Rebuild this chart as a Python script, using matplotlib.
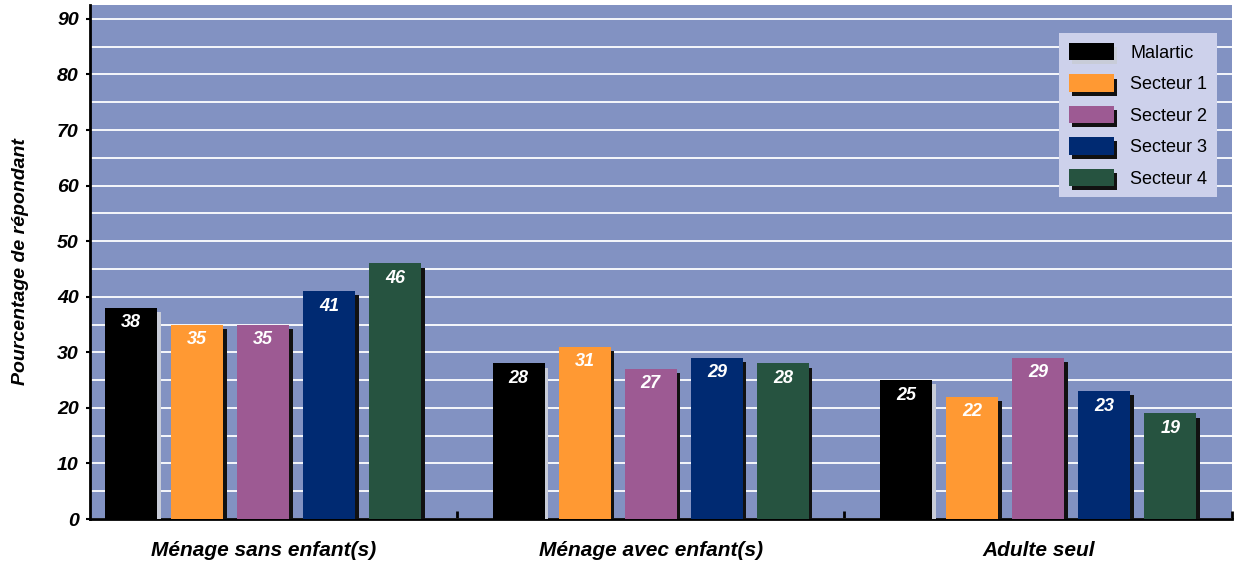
import numpy as np
import matplotlib
matplotlib.use("Agg")
import matplotlib.pyplot as plt
import matplotlib.patheffects as pe

plt.rcParams['font.family'] = ['Liberation Sans', 'DejaVu Sans']

categories = ["Ménage sans enfant(s)", "Ménage avec enfant(s)", "Adulte seul"]
series = ["Malartic", "Secteur 1", "Secteur 2", "Secteur 3", "Secteur 4"]
malartic = [38, 28, 25]
secteur1 = [35, 31, 22]
secteur2 = [35, 27, 29]
secteur3 = [41, 29, 23]
secteur4 = [46, 28, 19]
values = [malartic, secteur1, secteur2, secteur3, secteur4]

colors = ["#000000", "#FF9933", "#9D5A93", "#002A72", "#265340"]
shadows = ["#C8CCD8", "#111111", "#111111", "#111111", "#111111"]

fig = plt.figure(figsize=(12.44, 5.63), dpi=100)
ax = fig.add_axes([90 / 1244, 44 / 563, 1142 / 1244, 514 / 563])
ax.set_facecolor("#8292C2")

x = np.arange(len(categories))
width = 0.134
step = 0.1705

for i, (name, vals) in enumerate(zip(series, values)):
    pos = x + (i - 2) * step
    bars = ax.bar(pos, vals, width, color=colors[i], label=name, zorder=3)
    for b, v in zip(bars, vals):
        b.set_path_effects([pe.SimplePatchShadow(offset=(2.5, -3), shadow_rgbFace=shadows[i], alpha=1),
                            pe.Normal()])
        ax.text(b.get_x() + b.get_width() / 2, v - 2.7, str(v), ha="center", va="center",
                color="white", fontsize=13, fontweight="bold", fontstyle="italic", zorder=4)

ax.set_xlim(-0.447, 2.5)
ax.set_ylim(0, 92.5)
ax.set_yticks(range(0, 91, 10))
ax.set_yticks(range(0, 91, 5), minor=True)
ax.yaxis.grid(True, which="both", color="white", linewidth=1.3, zorder=0)
ax.set_axisbelow(True)

ax.set_xticks(x)
ax.set_xticklabels(categories, fontsize=15, fontweight="bold", fontstyle="italic")
ax.set_xticks([0.5, 1.5, 2.5], minor=True)
ax.tick_params(axis="x", which="major", length=0, pad=16)
ax.tick_params(axis="x", which="minor", direction="in", length=6, width=2)
ax.tick_params(axis="y", which="major", length=3, width=1.5, pad=5)
ax.tick_params(axis="y", which="minor", length=0)
for lab in ax.get_yticklabels():
    lab.set_fontsize(14)
    lab.set_fontweight("bold")
    lab.set_fontstyle("italic")

ax.set_ylabel("Pourcentage de répondant", fontsize=14, fontweight="bold", fontstyle="italic", labelpad=20)

for s in ["top", "right"]:
    ax.spines[s].set_visible(False)
for s in ["left", "bottom"]:
    ax.spines[s].set_linewidth(2)

leg = ax.legend(loc="upper right", bbox_to_anchor=(0.987, 0.9455), borderaxespad=0, fontsize=13,
                frameon=True, fancybox=False, handlelength=2.5, handleheight=1.1, labelspacing=0.7,
                borderpad=0.55, handletextpad=0.9)
leg.get_frame().set_facecolor("#CDD1EB")
leg.get_frame().set_edgecolor("none")
leg.get_frame().set_alpha(1)

plt.savefig("out.png", dpi=100)
